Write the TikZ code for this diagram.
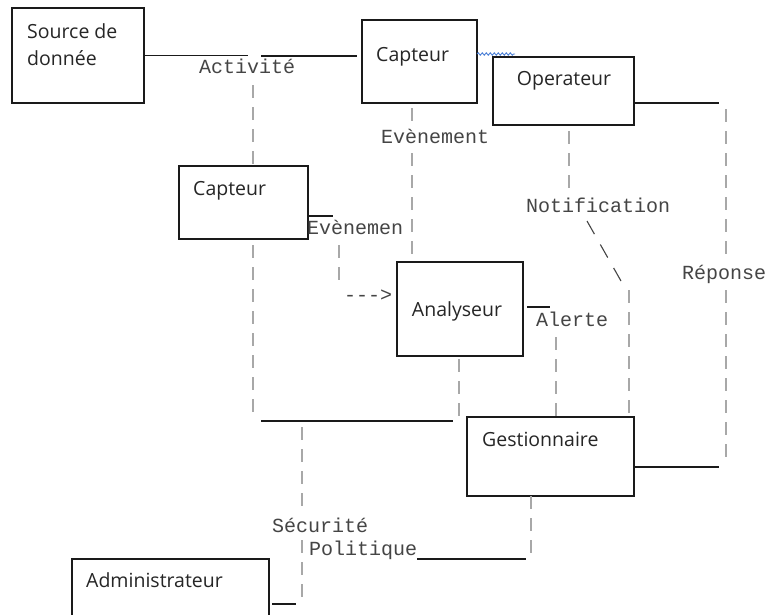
\documentclass[tikz,border=0pt]{standalone}
\usepackage{fontspec}
\setmainfont{Open Sans}
\setmonofont{Liberation Mono}
\usetikzlibrary{decorations.pathmorphing}

\definecolor{boxline}{HTML}{1A1A1A}
\definecolor{textdark}{HTML}{262626}
\definecolor{msgtext}{HTML}{454545}
\definecolor{dashgray}{HTML}{A8A8A8}
\definecolor{waveblue}{HTML}{4A7FD6}

\begin{document}
\begin{tikzpicture}[x=1pt,y=-1pt,
  box/.style={draw=boxline, line width=1.6pt, rectangle, inner sep=0pt, outer sep=0pt, anchor=north west},
  boxtext/.style={font=\fontsize{19.5}{27}\selectfont, text=textdark, inner sep=0pt},
  msg/.style={font=\ttfamily\fontsize{20}{24}\selectfont, text=msgtext, inner sep=0pt, anchor=base west},
  wire/.style={draw=boxline, line width=1.6pt},
  lifeline/.style={draw=dashgray, line width=2.6pt, dash pattern=on 13pt off 9pt},
  slash/.style={draw=msgtext, line width=1.1pt, dash pattern=on 15pt off 12pt},
  squiggle/.style={draw=waveblue, line width=0.9pt, decorate,
    decoration={snake, amplitude=1.2pt, segment length=4pt}}
]
\useasboundingbox (0,0) rectangle (770,614);
\fill[white] (0,0) rectangle (770,614);
\clip (0,0) rectangle (770,614);

% ---- boxes ----
\node[box, minimum width=132pt, minimum height=95pt] (src)   at (12,8)    {};
\node[box, minimum width=115pt, minimum height=83pt] (cap1)  at (362,20)  {};
\node[box, minimum width=141pt, minimum height=68pt] (op)    at (493,57)  {};
\node[box, minimum width=129pt, minimum height=73pt] (cap2)  at (179,166) {};
\node[box, minimum width=126pt, minimum height=94pt] (ana)   at (397,262) {};
\node[box, minimum width=167pt, minimum height=79pt] (gest)  at (467,417) {};
\node[box, minimum width=197pt, minimum height=80pt] (admin) at (72,559)  {};
\draw[boxline, line width=2.8pt] (op.south west) -- (op.south east);

% ---- box titles ----
\node[boxtext, anchor=west, align=left] (srcT) at (27,44.5) {Source de\\donnée};
\node[boxtext, anchor=base west] (cap1T)  at (376,61)  {Capteur};
\node[boxtext, anchor=base]      (opT)    at (564,85)  {Operateur};
\node[boxtext, anchor=base west] (cap2T)  at (193,195) {Capteur};
\node[boxtext, anchor=base]      (anaT)   at (457,316) {Analyseur};
\node[boxtext, anchor=base west] (gestT)  at (482,446) {Gestionnaire};
\node[boxtext, anchor=base west] (adminT) at (86,587)  {Administrateur};

% ---- message labels ----
\node[msg] (lAct)  at (199,73)  {Activité};
\node[msg] (lEv1)  at (381,143) {Evènement};
\node[msg] (lEv2)  at (307,234) {Evènemen};
\node[msg] (lArr)  at (344,301) {--->};
\node[msg] (lNot)  at (526,212) {Notification};
\node[msg] (lRep)  at (682,279) {Réponse};
\node[msg] (lAl)   at (536,326) {Alerte};
\node[msg] (lSec)  at (272,532) {Sécurité};
\node[msg] (lPol)  at (309,555) {Politique};

% ---- free ends of the connectors ----
\coordinate (actL) at (248,55.5);
\coordinate (actR) at (261,56);
\coordinate (actD) at (253,85);
\coordinate (c2D)  at (253,420);
\coordinate (evT)  at (412,124);
\coordinate (evB)  at (412,153);
\coordinate (e2)   at (333,216);
\coordinate (e2a)  at (339,245);
\coordinate (e2b)  at (339,282);
\coordinate (anD)  at (459,418);
\coordinate (hL)   at (261,421);
\coordinate (hR)   at (453,421);
\coordinate (alA)  at (550,307);
\coordinate (alB)  at (556,337);
\coordinate (nt1)  at (569,190);
\coordinate (nt2)  at (587,221);
\coordinate (nt3)  at (621,281);
\coordinate (nt4)  at (629,290);
\coordinate (rp)   at (719,103);
\coordinate (rp1)  at (726,109);
\coordinate (rp2)  at (726,258);
\coordinate (rp3)  at (726,290);
\coordinate (rp4)  at (726,464);
\coordinate (rp5)  at (719,467);
\coordinate (sc1)  at (302,427);
\coordinate (sc2)  at (302,510);
\coordinate (sc3)  at (302,540);
\coordinate (sc4)  at (302,604);
\coordinate (ad)   at (296,604);
\coordinate (pl)   at (417,559);
\coordinate (pl2)  at (526,559);
\coordinate (gd)   at (531,555);
\coordinate (wv)   at (515,54);

% ---- solid connectors ----
\draw[wire] (src.east) -- (actL);
\draw[wire, shorten >=5pt] (actR) -- (cap1.west |- actR);
\draw[wire] (cap2.east |- e2) -- (e2);
\draw[wire] (hL) -- (hR);
\draw[wire, shorten <=4pt] (ana.east |- alA) -- (alA);
\draw[wire] (op.east |- rp) -- (rp);
\draw[wire] (gest.east |- rp5) -- (rp5);
\draw[wire, shorten <=3pt] (admin.east |- ad) -- (ad);
\draw[wire] (pl) -- (pl2);

% ---- dashed lifelines ----
\draw[lifeline] (actD) -- (cap2.north -| actD);
\draw[lifeline, shorten <=6pt] (cap2.south -| c2D) -- (c2D);
\draw[lifeline, shorten <=5pt] (cap1.south -| evT) -- (evT);
\draw[lifeline] (evB) -- (ana.north -| evB);
\draw[lifeline] (e2a) -- (e2b);
\draw[lifeline, shorten <=3pt] (ana.south -| anD) -- (anD);
\draw[lifeline] (alB) -- (gest.north -| alB);
\draw[lifeline, shorten <=6pt] (op.south -| nt1) -- (nt1);
\draw[slash] (nt2) -- (nt3);
\draw[lifeline] (nt4) -- (gest.north -| nt4);
\draw[lifeline] (rp1) -- (rp2);
\draw[lifeline] (rp3) -- (rp4);
\draw[lifeline] (sc1) -- (sc2);
\draw[lifeline] (sc3) -- (sc4);
\draw[lifeline] (gest.south -| gd) -- (gd);

% ---- wavy mark beside the first sensor ----
\draw[squiggle] (cap1.east |- wv) -- (wv);
\end{tikzpicture}
\end{document}
